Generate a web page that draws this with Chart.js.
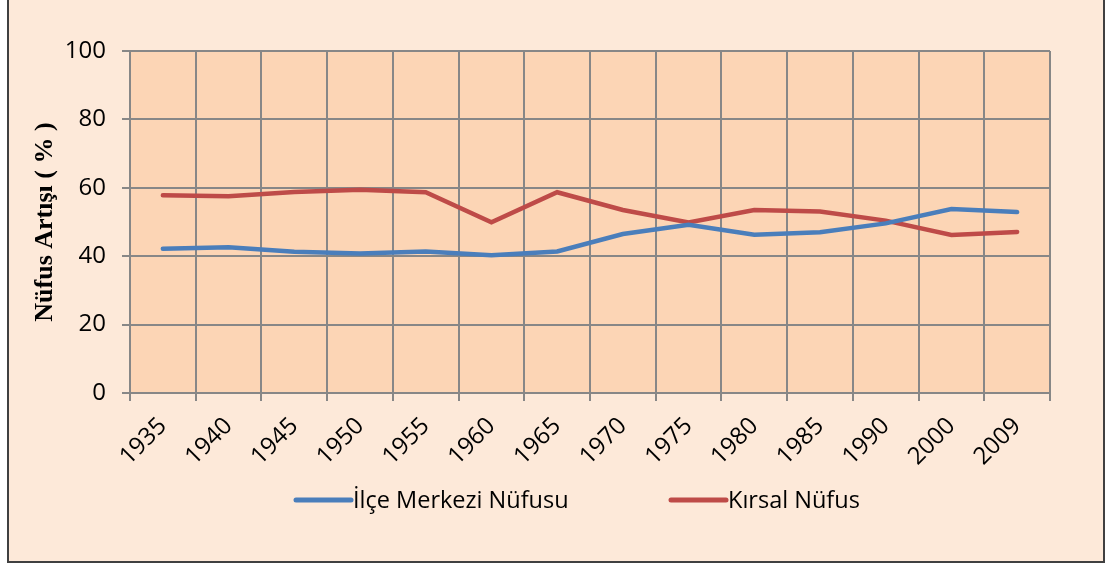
<!DOCTYPE html>
<html lang="tr">
<head>
<meta charset="UTF-8">
<title>Nüfus Artışı</title>
<script src="https://cdn.jsdelivr.net/npm/chart.js"></script>
<style>
    body {
        margin: 0;
        background: #fff;
    }
    .frame {
        position: absolute;
        left: 7px;
        top: -2px;
        width: 1094px;
        height: 561px;
        border: 2px solid #404040;
        background: #FDE9D9;
    }
    canvas { display: block; }
</style>
</head>
<body>
<div class="frame">
    <canvas id="chart" width="1094" height="561"></canvas>
</div>
<script>
const years = ["1935", "1940", "1945", "1950", "1955", "1960", "1965", "1970", "1975", "1980", "1985", "1990", "2000", "2009"];
const ilceMerkezi = [42.2, 42.6, 41.3, 40.8, 41.4, 40.3, 41.4, 46.5, 49.2, 46.3, 47.0, 49.6, 53.8, 52.9];
const kirsal = [57.8, 57.5, 58.8, 59.4, 58.7, 49.9, 58.7, 53.5, 49.9, 53.5, 53.1, 50.4, 46.2, 47.1];
const yMin = 0, yMax = 100, yStep = 20;

const gridColor = "#878787";

// peach plot area behind the grid
const plotBg = {
    id: "plotBg",
    beforeDraw(chart) {
        const a = chart.chartArea;
        chart.ctx.save();
        chart.ctx.fillStyle = "#FCD5B5";
        chart.ctx.fillRect(a.left, a.top, a.right - a.left, a.bottom - a.top);
        chart.ctx.restore();
    }
};

// legend drawn like the Excel one: line sample glued to the text
const bottomLegend = {
    id: "bottomLegend",
    afterDraw(chart) {
        const ctx = chart.ctx;
        const spots = [287, 662];
        const y = 500;
        ctx.save();
        ctx.font = '23.5px "Open Sans"';
        ctx.textBaseline = "middle";
        chart.data.datasets.forEach((ds, i) => {
            const x = spots[i];
            ctx.strokeStyle = ds.borderColor;
            ctx.lineWidth = 5;
            ctx.lineCap = "round";
            ctx.beginPath();
            ctx.moveTo(x, y);
            ctx.lineTo(x + 55, y);
            ctx.stroke();
            ctx.fillStyle = "#000";
            ctx.fillText(ds.label, x + 57, y + 1);
        });
        ctx.restore();
    }
};

new Chart(document.getElementById("chart"), {
    type: "line",
    data: {
        labels: years,
        datasets: [
            {
                label: "İlçe Merkezi Nüfusu",
                data: ilceMerkezi,
                borderColor: "#4A7EBB",
                borderWidth: 4.5,
                borderCapStyle: "round",
                pointRadius: 0,
                tension: 0
            },
            {
                label: "Kırsal Nüfus",
                data: kirsal,
                borderColor: "#BE4B48",
                borderWidth: 4.5,
                borderCapStyle: "round",
                pointRadius: 0,
                tension: 0
            }
        ]
    },
    options: {
        responsive: false,
        animation: false,
        layout: { padding: { top: 51, right: 53, bottom: 0, left: 0 } },
        plugins: {
            legend: { display: false },
            tooltip: { enabled: false }
        },
        scales: {
            x: {
                offset: true,
                grid: { offset: true, color: gridColor, lineWidth: 2, tickLength: 8 },
                border: { color: gridColor, width: 2 },
                ticks: {
                    autoSkip: false,
                    minRotation: 45,
                    maxRotation: 45,
                    padding: 11,
                    color: "#000",
                    font: { family: "Open Sans", size: 24 }
                },
                afterFit(scale) { scale.height = 168; }
            },
            y: {
                min: yMin,
                max: yMax,
                grid: { color: gridColor, lineWidth: 2, tickLength: 8 },
                border: { color: gridColor, width: 2 },
                ticks: {
                    stepSize: yStep,
                    padding: 16,
                    color: "#000",
                    font: { family: "Open Sans", size: 24 }
                },
                title: {
                    display: true,
                    text: "Nüfus Artışı ( % )",
                    color: "#000",
                    padding: { top: 21, bottom: 0 },
                    font: { family: "Liberation Serif", size: 26, weight: "bold" }
                },
                afterFit(scale) { scale.width = 121; }
            }
        }
    },
    plugins: [plotBg, bottomLegend]
});
</script>
</body>
</html>
